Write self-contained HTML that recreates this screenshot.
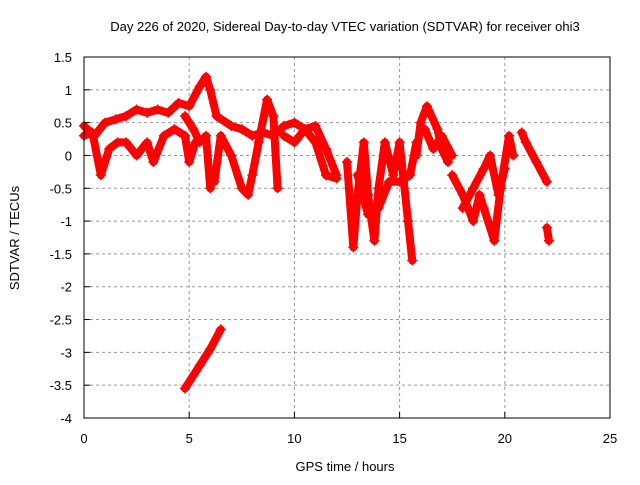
<!DOCTYPE html>
<html><head><meta charset="utf-8"><style>
body{margin:0;background:#fff;font-family:"Liberation Sans",sans-serif}
svg text{font-family:"Liberation Sans",sans-serif;font-size:13px;fill:#000}
</style></head><body>
<svg id="chart" width="640" height="480" xmlns="http://www.w3.org/2000/svg">
<rect width="640" height="480" fill="#fff"/>
<g id="grid"></g>
<g id="marks"></g>
<rect x="84" y="57" width="526" height="361" fill="none" stroke="#000" stroke-width="1"/>
<g id="ticks"></g>
<text x="345" y="31" text-anchor="middle">Day 226 of 2020, Sidereal Day-to-day VTEC variation (SDTVAR) for receiver ohi3</text>
<text x="345" y="471" text-anchor="middle">GPS time / hours</text>
<text transform="translate(19,238) rotate(-90)" text-anchor="middle">SDTVAR / TECUs</text>
</svg>
<script>
const xTicks=[0,5,10,15,20,25];
const yTicks=[1.5,1,0.5,0,-0.5,-1,-1.5,-2,-2.5,-3,-3.5,-4];
const track1=[[0,0.45],[0.5,0.3],[1,0.5],[1.5,0.55],[2,0.6],[2.5,0.7],[3,0.65],[3.5,0.7],[4,0.65],[4.5,0.8],[5,0.75],[5.5,1.05],[5.8,1.2],[6,1.0],[6.3,0.6],[7,0.45],[7.5,0.4],[8,0.3],[8.5,0.35],[9,0.3],[9.5,0.45],[10,0.5],[10.5,0.4],[11,0.45],[11.5,0.1],[12,-0.3]];
const track2=[[0,0.3],[0.4,0.35],[0.8,-0.3],[1.2,0.1],[1.6,0.2],[2,0.2],[2.5,0.0],[3,0.2],[3.3,-0.1],[3.8,0.3],[4.3,0.4],[4.8,0.3],[5,-0.1],[5.3,0.2]];
const track3=[[4.8,0.6],[5.2,0.4],[5.5,0.2],[5.8,0.3],[6,-0.5]];
const track4=[[6.2,-0.4],[6.5,0.3],[7,0.0],[7.5,-0.5],[7.8,-0.6],[8,-0.3],[8.3,0.2],[8.7,0.85],[9,0.6],[9.2,-0.5]];
const track5=[[9.5,0.3],[10,0.2],[10.5,0.4],[11,0.2],[11.5,-0.3],[12,-0.35]];
const track6=[[12.5,-0.1],[12.8,-1.4],[13,-0.6],[13.3,0.2],[13.5,-0.6],[13.8,-1.3],[14,-0.5],[14.3,0.2],[14.7,-0.3],[15,0.2],[15.4,-1.0],[15.6,-1.6]];
const track7=[[13,-0.3],[13.5,-0.9],[14,-0.8],[14.5,-0.4],[15,-0.4],[15.5,-0.3],[15.8,0.2]];
const track8=[[15.8,0.0],[16,0.5],[16.3,0.75],[16.8,0.4],[17,0.1],[17.3,-0.1]];
const track9=[[16.2,0.4],[16.6,0.1],[17,0.3],[17.5,0.0]];
const track10=[[17.5,-0.3],[18,-0.6],[18.5,-1.0],[18.8,-0.6],[19,-0.8],[19.5,-1.3],[19.8,-0.5],[20.2,0.3],[20.4,0.0]];
const track11=[[18,-0.8],[18.5,-0.5],[19,-0.2],[19.3,0.0],[19.7,-0.6],[20,-0.2]];
const track12=[[20.8,0.35],[21,0.2],[21.5,-0.1],[22,-0.4]];
const track13=[[22,-1.1],[22.1,-1.3]];
const track14=[[4.8,-3.55],[5.5,-3.2],[6,-2.95],[6.5,-2.65]];
const tracks=[track1,track2,track3,track4,track5,track6,track7,track8,track9,track10,track11,track12,track13,track14];
const X=t=>84+t*526/25;
const Y=v=>57+(1.5-v)*361/5.5;
const NS='http://www.w3.org/2000/svg';
const grid=document.getElementById('grid'),ticks=document.getElementById('ticks'),marks=document.getElementById('marks');
function mk(tag,attrs,parent){const e=document.createElementNS(NS,tag);for(const k in attrs)e.setAttribute(k,attrs[k]);parent.appendChild(e);return e;}
xTicks.forEach(t=>{
  if(t>0&&t<25){const g=mk('line',{x1:X(t),x2:X(t),y1:57,y2:418,stroke:'#999','stroke-dasharray':'3,3'},grid);
  
  }
  const l=mk('text',{x:X(t),y:443,'text-anchor':'middle'},ticks);l.textContent=t;
  
  
  mk('line',{x1:X(t),x2:X(t),y1:418,y2:412,stroke:'#000'},ticks);
});
yTicks.forEach(v=>{
  if(v<1.5&&v>-4){const g=mk('line',{x1:84,x2:610,y1:Y(v),y2:Y(v),stroke:'#999','stroke-dasharray':'3,3'},grid);
  
  }
  const l=mk('text',{x:72,y:Y(v)+5,'text-anchor':'end'},ticks);l.textContent=v;
  
  
  mk('line',{x1:84,x2:90,y1:Y(v),y2:Y(v),stroke:'#000'},ticks);
});
tracks.forEach(tr=>{
  const p=mk('polyline',{points:tr.map(d=>X(d[0])+','+Y(d[1])).join(' '),fill:'none',stroke:'#f00','stroke-width':8,'stroke-linejoin':'round','stroke-linecap':'round'},marks);
  
  
  tr.forEach(d=>{const m=mk('path',{d:`M${X(d[0])-5},${Y(d[1])}h10M${X(d[0])},${Y(d[1])-5}v10`,stroke:'#f00','stroke-width':1.5},marks);
    
    });
});
</script>
</body></html>
